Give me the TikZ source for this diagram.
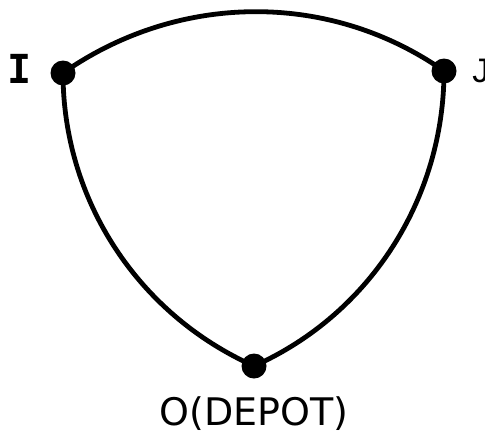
\documentclass[tikz,border=0pt]{standalone}
\usepackage{fontspec}
\setmainfont{DejaVu Sans}
\newfontfamily\monofnt{DejaVu Sans Mono}
\newfontfamily\jfnt{Liberation Sans}
\begin{document}
\begin{tikzpicture}[x=0.5pt,y=0.5pt,
  vertex/.style={circle,fill=black,inner sep=0pt,minimum size=12.5pt},
  edge/.style={line width=2.4pt},
  lbl/.style={inner sep=0pt,font=\fontsize{19}{19}\selectfont}]
\useasboundingbox (0,0) rectangle (485,435);
\node[vertex] (I) at (63,362) {};
\node[vertex] (J) at (444,364) {};
\node[vertex] (O) at (254,69) {};
\draw[edge] (I.center) to[out=35,in=145,looseness=0.94] (J.center);
\draw[edge] (I.center) to[out=-90,in=156,looseness=0.93] (O.center);
\draw[edge] (J.center) to[out=-90,in=24,looseness=0.93] (O.center);
\node[lbl,anchor=base,font=\monofnt\bfseries\fontsize{20}{20}\selectfont] (li) at (20,352) {I};
\node[lbl,anchor=base west,font=\jfnt\fontsize{17}{17}\selectfont] (lj) at (472,353) {J};
\node[lbl,anchor=base] (lo) at (254,10) {O(DEPOT)};
\end{tikzpicture}
\end{document}
